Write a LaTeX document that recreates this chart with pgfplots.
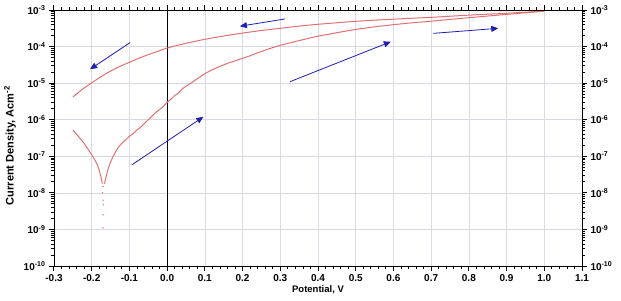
\documentclass[border=0pt]{standalone}
\usepackage{fontspec}
\setmainfont{Liberation Sans}
\usepackage{pgfplots}
\pgfplotsset{compat=1.18}
\usetikzlibrary{arrows.meta}
\definecolor{curve}{RGB}{226,112,112}
\definecolor{arr}{RGB}{30,30,175}
\definecolor{gridc}{RGB}{215,218,228}
\pgfplotsset{
  common/.style={
    scale only axis, width=528pt, height=256pt,
    xmin=-0.3, xmax=1.1, ymin=1e-10, ymax=1e-3,
    axis on top=false,
    xtick align=outside, ytick align=outside,
    xtick pos=both, ytick pos=both,
    major tick length=5pt, minor tick length=3pt,
    every major tick/.append style={draw=black, line width=1pt},
    every minor tick/.append style={draw=black, line width=0.8pt},
    axis line style={black, line width=0.9pt},
    log basis y=10,
    yticklabel={\pgfmathparse{int(round(\tick))}\textbf{10}\textsuperscript{\textbf{\pgfmathresult}}},
    tick label style={font=\fontsize{10}{12}\selectfont},
  }
}
\begin{document}
\begin{tikzpicture}
\useasboundingbox (-54pt,-34pt) rectangle (567pt,266pt);
\begin{semilogyaxis}[common,
  xtick={-0.3,-0.2,...,1.1},
  xticklabels={\textbf{-0.3},\textbf{-0.2},\textbf{-0.1},\textbf{0.0},\textbf{0.1},\textbf{0.2},\textbf{0.3},\textbf{0.4},\textbf{0.5},\textbf{0.6},\textbf{0.7},\textbf{0.8},\textbf{0.9},\textbf{1.0},\textbf{1.1}},
  minor x tick num=4,
  grid=major, major grid style={gridc, line width=0.6pt},
  xlabel={\textbf{Potential, V}},
  ylabel={\textbf{Current Density, Acm\textsuperscript{-2}}},
  xlabel style={font=\fontsize{9.5}{11}\selectfont, yshift=3pt},
  ylabel style={font=\fontsize{11}{13}\selectfont, at={(ticklabel cs:0.47)}, yshift=1pt},
]
% zero potential line
\addplot[black, line width=0.8pt] coordinates {(0,1e-10) (0,1e-3)};
% reverse scan
\addplot[curve, line width=1pt, smooth] coordinates {
(-0.25,4.17e-6) (-0.225,6.76e-6) (-0.2,1.02e-5) (-0.175,1.51e-5) (-0.15,2.14e-5)
(-0.125,2.88e-5) (-0.1,3.72e-5) (-0.075,4.79e-5) (-0.05,6.03e-5) (-0.025,7.41e-5)
(0,9.12e-5) (0.05,1.23e-4) (0.1,1.58e-4) (0.15,1.95e-4) (0.2,2.34e-4)
(0.25,2.75e-4) (0.3,3.16e-4) (0.35,3.63e-4) (0.4,4.07e-4) (0.5,4.90e-4)
(0.6,5.62e-4) (0.7,6.31e-4) (0.8,7.24e-4) (0.9,8.13e-4) (1.0,9.33e-4)};
% forward scan, cathodic branch
\addplot[curve, line width=1pt] coordinates {
(-0.25,5.25e-7) (-0.24,3.98e-7) (-0.23,3.02e-7) (-0.22,2.24e-7) (-0.21,1.58e-7)
(-0.2,1.10e-7) (-0.19,7.41e-8) (-0.185,5.75e-8) (-0.18,4.17e-8) (-0.175,2.63e-8)
(-0.172,1.78e-8)};
% forward scan, anodic branch
\addplot[curve, line width=1pt] coordinates {
(-0.166,1.78e-8) (-0.163,2.51e-8) (-0.16,3.31e-8) (-0.155,5.01e-8) (-0.15,7.08e-8)
(-0.14,1.15e-7) (-0.13,1.74e-7) (-0.12,2.29e-7) (-0.11,2.82e-7) (-0.1,3.55e-7)
(-0.09,4.17e-7) (-0.08,5.25e-7) (-0.07,6.31e-7) (-0.06,7.94e-7) (-0.05,1.0e-6)
(-0.04,1.26e-6) (-0.03,1.58e-6) (-0.02,1.91e-6) (-0.01,2.29e-6) (0,3.02e-6)
(0.01,3.63e-6) (0.02,4.57e-6) (0.03,5.37e-6) (0.04,6.92e-6) (0.05,8.32e-6)
(0.06,9.55e-6) (0.07,1.12e-5) (0.08,1.32e-5) (0.09,1.55e-5) (0.1,1.82e-5)
(0.12,2.34e-5) (0.14,2.88e-5) (0.16,3.47e-5) (0.18,4.07e-5) (0.2,4.79e-5)
(0.22,5.62e-5) (0.24,6.76e-5) (0.26,8.0e-5) (0.28,9.4e-5) (0.3,1.08e-4)
(0.35,1.46e-4) (0.4,1.93e-4) (0.45,2.40e-4) (0.5,2.95e-4) (0.55,3.47e-4)
(0.6,3.98e-4) (0.65,4.47e-4) (0.7,4.95e-4) (0.8,6.17e-4) (0.9,7.59e-4) (1.0,9.33e-4)};
% scattered points near corrosion potential
\addplot[only marks, mark=*, mark size=0.45pt, curve] coordinates {
(-0.170,1.5e-8) (-0.171,1.0e-8) (-0.170,6.3e-9) (-0.169,4.7e-9) (-0.170,2.5e-9) (-0.170,1.1e-9)};
% scan direction arrows
\addplot[arr, line width=0.8pt, -{Triangle[length=7pt,width=6pt]}] coordinates {(-0.0985,1.28e-4) (-0.2045,2.4e-5)};
\addplot[arr, line width=0.8pt, -{Triangle[length=7pt,width=6pt]}] coordinates {(0.3125,5.7e-4) (0.193,3.6e-4)};
\addplot[arr, line width=0.8pt, -{Triangle[length=7pt,width=6pt]}] coordinates {(-0.094,5.8e-8) (0.096,1.2e-6)};
\addplot[arr, line width=0.8pt, -{Triangle[length=7pt,width=6pt]}] coordinates {(0.326,1.1e-5) (0.593,1.36e-4)};
\addplot[arr, line width=0.8pt, -{Triangle[length=7pt,width=6pt]}] coordinates {(0.706,2.3e-4) (0.878,3.16e-4)};
\end{semilogyaxis}
\begin{semilogyaxis}[common,
  xtick=\empty,
  yticklabel pos=right,
]
\addplot[draw=none] coordinates {(0,1e-5) (0.5,1e-4)};
\end{semilogyaxis}
\end{tikzpicture}
\end{document}
